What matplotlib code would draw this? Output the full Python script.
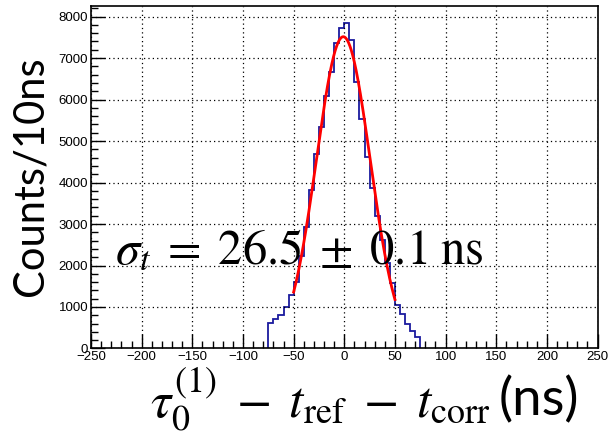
import numpy as np
import matplotlib
matplotlib.use("Agg")
import matplotlib.pyplot as plt
from matplotlib.ticker import MultipleLocator

plt.rcParams['mathtext.fontset'] = 'stix'

# Гістограма: межі бінів (нс) і кількість подій у кожному біні
bin_edges = np.arange(-75, 80, 5)
counts = [605, 710, 805, 1000, 1300, 1605, 2220, 2930, 3810, 4690,
          5330, 6090, 6670, 7375, 7730, 7855, 7430, 6420, 5530, 4620,
          3880, 3185, 2625, 2050, 1570, 1060, 820, 580, 420, 270]

# Параметри гаусової підгонки
fit_amp = 7515
fit_mean = -1.0
fit_sigma = 26.5
fit_range = (-50, 50)

fig = plt.figure(figsize=(6.09, 4.47), dpi=100)
ax = fig.add_axes([0.1494, 0.2204, 0.8319, 0.7668])

ax.stairs(counts, bin_edges, color='#1a1a9e', lw=1.3)

xf = np.linspace(fit_range[0], fit_range[1], 400)
yf = fit_amp * np.exp(-0.5 * ((xf - fit_mean) / fit_sigma) ** 2)
ax.plot(xf, yf, color='#ff0000', lw=2)

ax.set_xlim(-250, 250)
ax.set_ylim(0, 8262)
ax.xaxis.set_major_locator(MultipleLocator(50))
ax.xaxis.set_minor_locator(MultipleLocator(10))
ax.yaxis.set_major_locator(MultipleLocator(1000))
ax.yaxis.set_minor_locator(MultipleLocator(200))
ax.tick_params(which='both', direction='in', top=False, right=False)
ax.tick_params(which='major', length=10, width=1, labelsize=9.5, pad=2)
ax.tick_params(which='minor', length=5, width=1)
for lbl in ax.get_xticklabels() + ax.get_yticklabels():
    lbl.set_family('Liberation Sans')
ax.grid(True, which='major', color='black', linestyle=(0, (1, 2.5)), lw=0.9)
for s in ax.spines.values():
    s.set_linewidth(1.2)

fig.text(0.189, 0.4116, r'$\sigma_t\;=\;26.5\;\pm\;0.1\;\mathrm{ns}$', fontsize=35,
         ha='left', va='baseline')
fig.text(0.05, 0.606, 'Counts/10ns', family='Lato', fontsize=30,
         rotation=90, ha='center', va='center')
fig.text(0.805, 0.066, r'$\tau_0^{(1)}\;-\;t_{\mathrm{ref}}\;-\;t_{\mathrm{corr}}$',
         fontsize=37, ha='right', va='baseline')
fig.text(0.818, 0.072, '(ns)', family='Lato', fontsize=38, ha='left', va='baseline')

fig.savefig('out.png', dpi=100)
